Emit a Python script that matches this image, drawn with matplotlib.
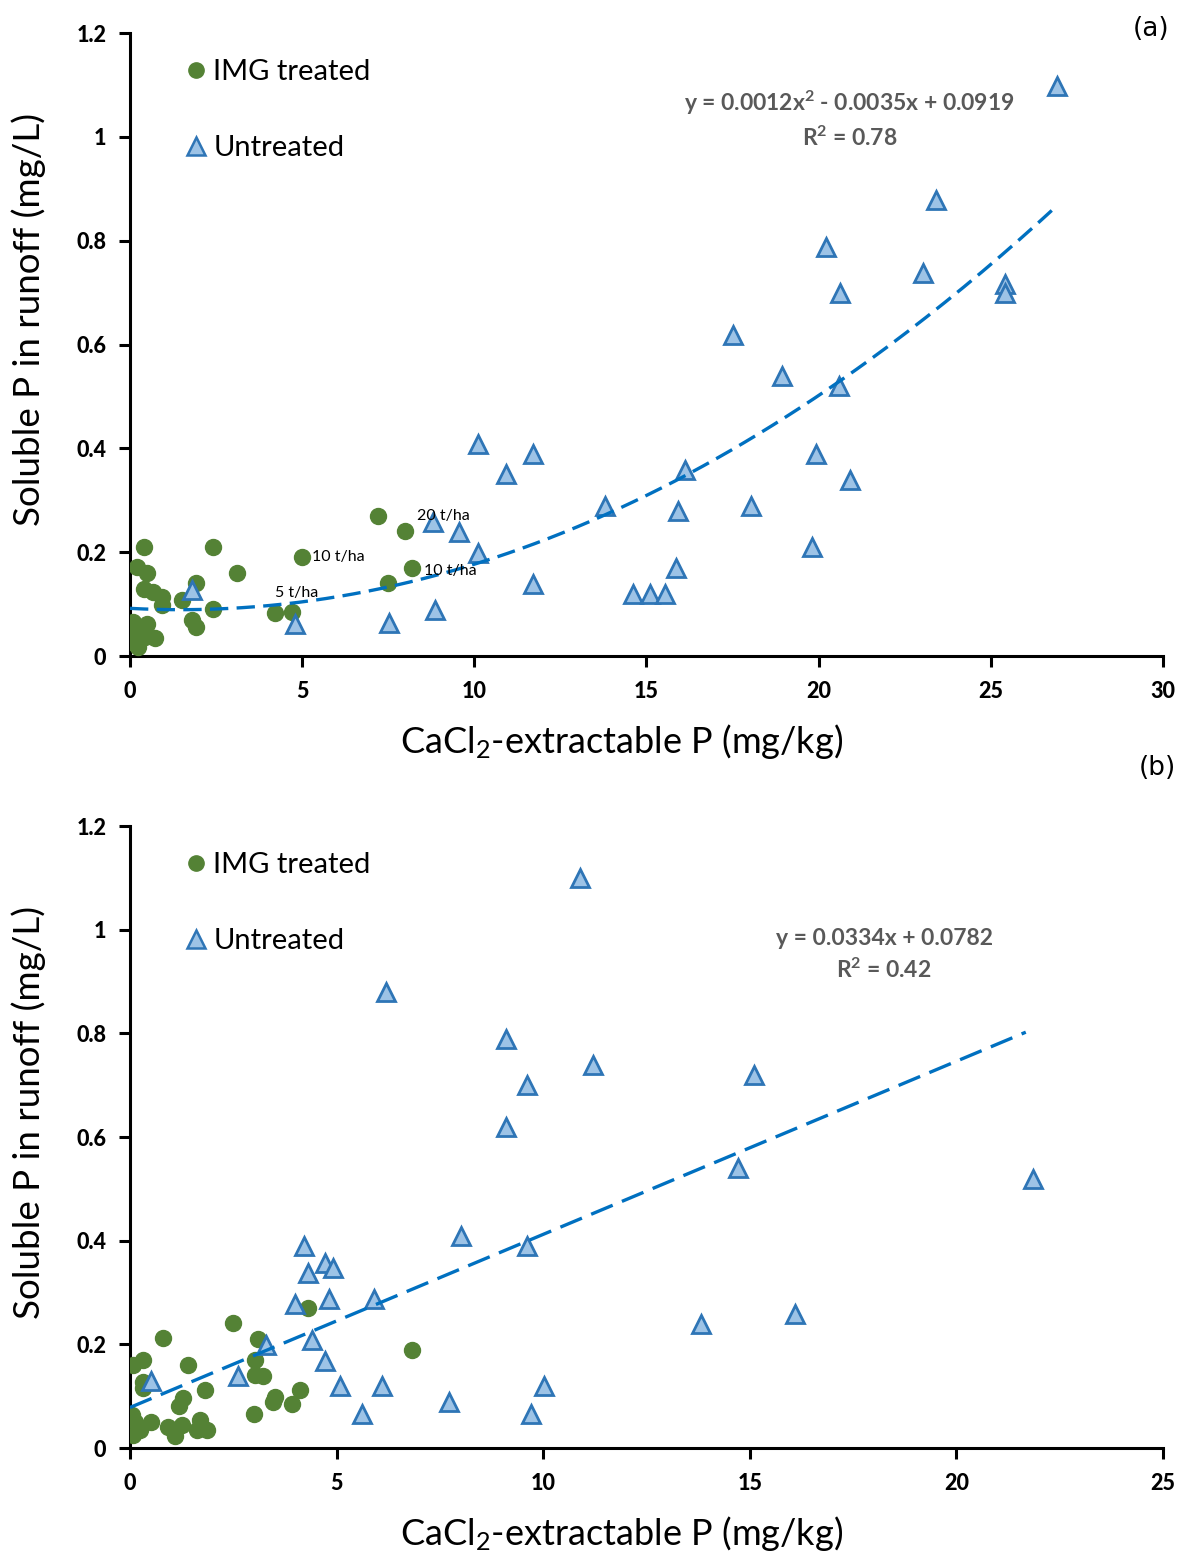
import numpy as np
import matplotlib
import matplotlib.pyplot as plt
from matplotlib.lines import Line2D

plt.rcParams["font.family"] = ["Lato", "DejaVu Sans"]
plt.rcParams["mathtext.fontset"] = "custom"
plt.rcParams["mathtext.rm"] = "Lato"
plt.rcParams["mathtext.it"] = "Lato:italic"
plt.rcParams["mathtext.bf"] = "Lato:bold"

# (a) data: x = CaCl2-extractable P, y = soluble P in runoff
a_img_x = [0.41, 2.42, 0.19, 0.50, 3.10, 1.92, 0.41, 0.68, 0.92, 0.92, 1.50, 2.42, 1.79, 1.92,
           0.10, 0.48, 0.02, 0.15, 0.73, 0.02, 0.44, 0.24,
           4.21, 4.70, 5.00, 7.20, 7.99, 7.49, 8.19]
a_img_y = [0.211, 0.211, 0.171, 0.160, 0.160, 0.140, 0.130, 0.124, 0.114, 0.098, 0.108, 0.090, 0.069, 0.056,
           0.066, 0.062, 0.047, 0.044, 0.034, 0.028, 0.037, 0.018,
           0.083, 0.085, 0.190, 0.270, 0.240, 0.140, 0.169]
a_un_x = [26.92, 23.41, 20.21, 23.03, 25.41, 25.41, 20.62, 17.51, 18.94, 20.59, 10.11, 11.70, 19.92,
          10.92, 16.12, 20.91, 13.80, 18.04, 15.91, 8.80, 9.56, 19.81, 10.11, 15.86, 11.70, 14.61,
          15.10, 15.54, 8.86, 7.52, 4.79, 1.80]
a_un_y = [1.098, 0.878, 0.788, 0.738, 0.716, 0.699, 0.699, 0.618, 0.539, 0.520, 0.408, 0.389, 0.389,
          0.351, 0.358, 0.339, 0.289, 0.289, 0.279, 0.258, 0.239, 0.210, 0.198, 0.169, 0.139, 0.119,
          0.119, 0.119, 0.089, 0.064, 0.062, 0.127]
a_coef = [0.0012, -0.0035, 0.0919]
a_labels = ["5 t/ha", "10 t/ha", "20 t/ha", "10 t/ha"]
a_label_x = [4.21, 5.29, 8.34, 8.54]
a_label_y = [0.121, 0.191, 0.270, 0.164]

# (b) data
b_img_x = [0.81, 2.49, 0.08, 0.31, 1.41, 0.32, 0.32, 1.82, 1.29, 1.19, 0.04, 0.12, 0.50, 0.93, 1.25,
           1.69, 1.61, 1.86, 1.09, 0.08, 0.24,
           4.32, 3.11, 3.03, 3.03, 3.21, 6.82, 4.11, 3.51, 3.45, 3.91, 3.00]
b_img_y = [0.212, 0.241, 0.160, 0.170, 0.160, 0.128, 0.115, 0.111, 0.096, 0.081, 0.064, 0.051, 0.051,
           0.041, 0.044, 0.054, 0.035, 0.035, 0.023, 0.025, 0.035,
           0.270, 0.210, 0.170, 0.141, 0.139, 0.190, 0.111, 0.099, 0.089, 0.084, 0.066]
b_un_x = [10.89, 6.20, 9.10, 11.21, 15.10, 9.61, 9.10, 14.71, 21.85, 8.01, 4.21, 9.61, 4.72, 4.91,
          4.31, 5.91, 3.99, 4.82, 13.82, 4.40, 16.09, 3.29, 4.72, 0.51, 2.61, 5.08, 6.10, 10.02,
          7.72, 5.61, 9.70]
b_un_y = [1.100, 0.880, 0.789, 0.739, 0.720, 0.700, 0.619, 0.540, 0.519, 0.409, 0.390, 0.390, 0.357,
          0.347, 0.338, 0.287, 0.278, 0.287, 0.239, 0.208, 0.259, 0.199, 0.168, 0.129, 0.139, 0.120,
          0.120, 0.120, 0.089, 0.066, 0.066]
b_coef = [0.0334, 0.0782]

ytick_vals = [0, 0.2, 0.4, 0.6, 0.8, 1.0, 1.2]
ytick_labels = ["0", "0.2", "0.4", "0.6", "0.8", "1", "1.2"]

green = "#548235"
tri_face = "#9DC3E6"
tri_edge = "#2E75B6"
line_col = "#0070C0"
eq_col = "#595959"

fig = plt.figure(figsize=(11.85, 15.51), dpi=100)
ax1 = fig.add_axes([0.1097, 0.577, 0.8717, 0.4017])
ax2 = fig.add_axes([0.1097, 0.0664, 0.8717, 0.401])


def style(ax, xmax):
    ax.set_xlim(0, xmax)
    ax.set_ylim(0, 1.2)
    for s in ["top", "right"]:
        ax.spines[s].set_visible(False)
    for s in ["left", "bottom"]:
        ax.spines[s].set_linewidth(2.2)
    ax.tick_params(width=2.2, length=8)
    ax.tick_params(axis="y", pad=9)
    ax.tick_params(axis="x", pad=10)
    xt = list(range(0, xmax + 1, 5))
    ax.set_xticks(xt)
    ax.set_xticklabels([str(v) for v in xt], fontsize=15.5, fontweight=900)
    ax.set_yticks(ytick_vals)
    ax.set_yticklabels(ytick_labels, fontsize=15.5, fontweight=900)
    ax.set_xlabel("CaCl$_2$-extractable P (mg/kg)", fontsize=26)
    ax.set_ylabel("Soluble P in runoff (mg/L)", fontsize=26.5)
    ax.xaxis.set_label_coords(0.476, -0.106)
    ax.yaxis.set_label_coords(-0.081, 0.54)
    handles = [
        Line2D([], [], marker="o", ls="none", color=green, markersize=11),
        Line2D([], [], marker="^", ls="none", markerfacecolor=tri_face,
               markeredgecolor=tri_edge, markeredgewidth=1.8, markersize=13),
    ]
    ax.legend(handles, ["IMG treated", "Untreated"], loc="upper left",
              bbox_to_anchor=(0.03, 1.0), frameon=False, fontsize=21,
              handlelength=0.6, handletextpad=0.3, labelspacing=1.7)


def scatter(ax, gx, gy, ux, uy):
    ax.plot(gx, gy, "o", color=green, markersize=11.5, zorder=3)
    ax.plot(ux, uy, "^", markerfacecolor=tri_face, markeredgecolor=tri_edge,
            markeredgewidth=2, markersize=13, zorder=4)


# panel (a)
style(ax1, 30)
xa = np.linspace(0, max(a_un_x), 200)
ax1.plot(xa, np.polyval(a_coef, xa), ls=(0, (5.5, 2.5)), color=line_col, lw=2.4, zorder=5)
scatter(ax1, a_img_x, a_img_y, a_un_x, a_un_y)
for t, x, y in zip(a_labels, a_label_x, a_label_y):
    ax1.text(x, y, t, fontsize=11.5, va="center", ha="left", zorder=6)
ax1.text(20.9, 1.034, "y = 0.0012x$^\\mathbf{2}$ - 0.0035x + 0.0919\nR$^\\mathbf{2}$ = 0.78",
         fontsize=16.5, fontweight="bold", color=eq_col, ha="center", va="center",
         linespacing=1.4)
fig.text(0.971, 0.981, "(a)", fontsize=19, ha="center", va="center",
         family=["DejaVu Sans"])

# panel (b)
style(ax2, 25)
xb = np.linspace(0, 21.68, 200)
ax2.plot(xb, np.polyval(b_coef, xb), ls=(0, (7, 3)), color=line_col, lw=2.4, zorder=5)
scatter(ax2, b_img_x, b_img_y, b_un_x, b_un_y)
ax2.text(18.25, 0.951, "y = 0.0334x + 0.0782\nR$^\\mathbf{2}$ = 0.42",
         fontsize=16.5, fontweight="bold", color=eq_col, ha="center", va="center",
         linespacing=1.4)
fig.text(0.977, 0.505, "(b)", fontsize=19, ha="center", va="center",
         family=["DejaVu Sans"])

fig.savefig("out.png", dpi=100)
